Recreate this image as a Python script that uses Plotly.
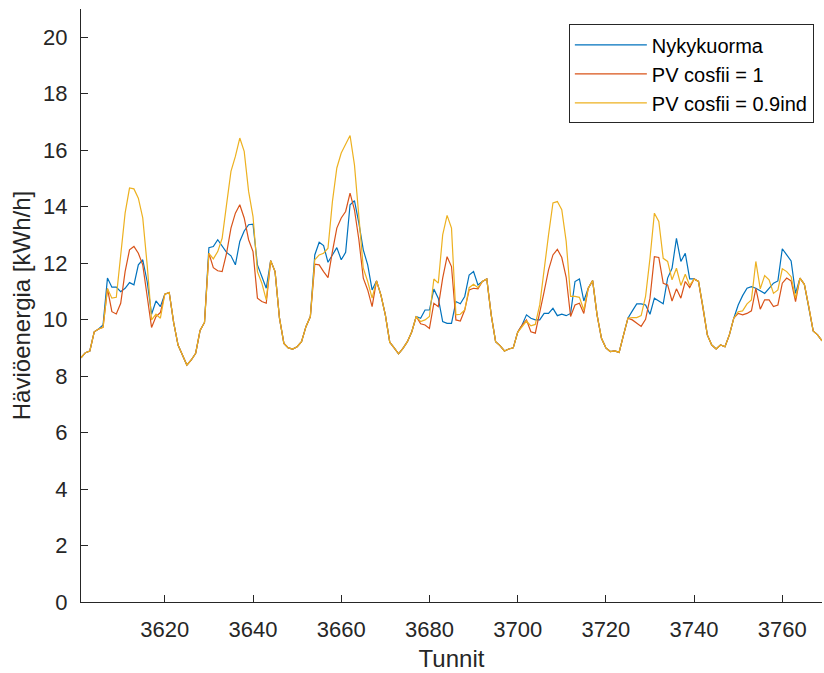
import plotly.graph_objects as go

hours = list(range(3601, 3770))

nykykuorma = [
    8.65, 8.83, 8.89, 9.57, 9.67, 9.81, 11.47, 11.15, 11.15, 10.99,
    11.11, 11.31, 11.23, 11.94, 12.12, 11.35, 10.19, 10.66, 10.46, 10.90,
    10.96, 9.90, 9.10, 8.75, 8.39, 8.57, 8.81, 9.62, 9.90, 12.55,
    12.59, 12.83, 12.62, 12.38, 12.26, 11.94, 12.77, 13.14, 13.36, 13.38,
    11.94, 11.52, 11.11, 12.09, 11.70, 10.05, 9.16, 9.00, 8.96, 9.04,
    9.22, 9.75, 10.11, 12.29, 12.74, 12.62, 12.03, 12.29, 12.55, 12.12,
    12.38, 14.07, 14.21, 13.42, 12.47, 11.94, 11.05, 11.37, 10.87, 10.17,
    9.20, 9.00, 8.79, 8.98, 9.22, 9.57, 10.11, 10.05, 10.34, 10.34,
    11.08, 10.76, 9.93, 9.87, 9.87, 10.64, 10.56, 10.82, 11.58, 11.70,
    11.23, 11.35, 11.44, 10.17, 9.22, 9.08, 8.89, 8.96, 9.00, 9.55,
    9.81, 10.17, 10.05, 9.99, 9.99, 10.22, 10.22, 10.40, 10.14, 10.19,
    10.14, 10.22, 11.35, 11.44, 10.66, 11.11, 11.38, 10.17, 9.34, 9.00,
    8.87, 8.89, 8.84, 9.46, 10.05, 10.31, 10.56, 10.56, 10.52, 10.19,
    10.76, 10.66, 10.56, 11.47, 11.82, 12.88, 12.06, 12.35, 11.44, 11.44,
    11.35, 10.46, 9.46, 9.10, 8.96, 9.10, 9.04, 9.46, 10.05, 10.52,
    10.85, 11.11, 11.17, 11.11, 11.02, 10.93, 11.11, 11.29, 11.37, 12.51,
    12.29, 12.08, 10.93, 11.47, 11.25, 10.46, 9.60, 9.46, 9.25,
]

pv_cos1 = [
    8.65, 8.83, 8.89, 9.57, 9.67, 9.73, 11.10, 10.28, 10.20, 10.58,
    11.70, 12.47, 12.59, 12.35, 11.94, 10.76, 9.72, 10.11, 10.25, 10.90,
    10.96, 9.90, 9.10, 8.75, 8.39, 8.57, 8.81, 9.62, 9.90, 12.35,
    11.84, 11.73, 11.70, 12.35, 13.24, 13.77, 14.07, 13.60, 12.83, 12.41,
    10.76, 10.64, 10.58, 12.09, 11.70, 10.05, 9.16, 9.00, 8.96, 9.04,
    9.22, 9.75, 10.11, 11.96, 11.94, 11.70, 11.49, 12.41, 13.24, 13.60,
    13.83, 14.48, 13.89, 12.83, 11.47, 11.05, 10.46, 11.37, 10.87, 10.17,
    9.20, 9.00, 8.79, 8.98, 9.22, 9.57, 10.11, 9.85, 9.81, 9.69,
    10.58, 10.46, 11.47, 12.23, 11.88, 9.99, 9.95, 10.34, 11.05, 11.11,
    11.09, 11.35, 11.44, 10.17, 9.22, 9.08, 8.89, 8.96, 9.00, 9.55,
    9.81, 9.99, 9.57, 9.52, 10.22, 10.99, 11.76, 12.29, 12.49, 12.20,
    11.50, 10.11, 10.52, 10.58, 10.22, 11.11, 11.38, 10.17, 9.34, 9.00,
    8.87, 8.89, 8.84, 9.46, 10.05, 9.99, 9.87, 9.76, 10.01, 10.76,
    12.23, 12.20, 11.29, 11.23, 10.66, 11.09, 10.76, 11.35, 11.13, 11.44,
    11.35, 10.46, 9.46, 9.10, 8.96, 9.10, 9.04, 9.46, 10.05, 10.22,
    10.17, 10.22, 10.31, 11.11, 10.37, 10.70, 10.70, 10.46, 10.52, 11.29,
    11.47, 11.37, 10.64, 11.47, 11.25, 10.46, 9.60, 9.46, 9.25,
]

pv_cos09 = [
    8.65, 8.83, 8.89, 9.57, 9.67, 9.73, 11.10, 10.76, 10.79, 12.17,
    13.77, 14.66, 14.63, 14.30, 13.60, 11.94, 9.99, 10.19, 10.05, 10.90,
    10.96, 9.90, 9.10, 8.75, 8.39, 8.57, 8.81, 9.62, 9.90, 12.35,
    12.15, 12.41, 12.88, 14.07, 15.25, 15.78, 16.43, 15.96, 14.54, 13.65,
    11.70, 11.29, 10.70, 12.09, 11.70, 10.05, 9.16, 9.00, 8.96, 9.04,
    9.22, 9.75, 10.11, 12.12, 12.29, 12.35, 12.53, 14.18, 15.37, 15.90,
    16.19, 16.52, 15.48, 13.60, 11.82, 11.35, 10.76, 11.37, 10.87, 10.17,
    9.20, 9.00, 8.79, 8.98, 9.22, 9.57, 10.11, 9.93, 9.99, 10.11,
    11.44, 11.29, 13.00, 13.69, 13.24, 10.17, 10.19, 10.34, 11.13, 11.25,
    11.13, 11.35, 11.44, 10.17, 9.22, 9.08, 8.89, 8.96, 9.00, 9.55,
    9.75, 9.95, 9.78, 9.83, 10.52, 11.82, 13.00, 14.13, 14.18, 13.89,
    12.77, 10.82, 10.82, 10.79, 10.34, 11.11, 11.38, 10.17, 9.34, 9.00,
    8.87, 8.89, 8.84, 9.46, 10.05, 10.07, 10.07, 10.14, 10.82, 12.17,
    13.77, 13.48, 12.17, 12.06, 11.41, 11.82, 11.21, 11.61, 11.21, 11.44,
    11.35, 10.46, 9.46, 9.10, 8.96, 9.10, 9.04, 9.46, 10.05, 10.28,
    10.31, 10.56, 10.70, 12.06, 11.09, 11.56, 11.41, 10.93, 11.05, 11.80,
    11.70, 11.52, 10.76, 11.47, 11.25, 10.46, 9.60, 9.46, 9.25,
]

series_names = ["Nykykuorma", "PV cosfii = 1", "PV cosfii = 0.9ind"]
series_colors = ["#0072BD", "#D95319", "#EDB120"]

x_ticks = [3620, 3640, 3660, 3680, 3700, 3720, 3740, 3760]
y_ticks = list(range(0, 21, 2))

FONT = "Liberation Sans, Arial, Helvetica, sans-serif"
AX = "#262626"

fig = go.Figure()
for name, vals, col in zip(series_names, [nykykuorma, pv_cos1, pv_cos09], series_colors):
    fig.add_trace(go.Scatter(x=hours, y=vals, mode="lines", name=name,
                             line=dict(color=col, width=1.2)))

fig.update_layout(
    width=824, height=673,
    margin=dict(l=81, r=2, t=9, b=71, pad=0),
    paper_bgcolor="white", plot_bgcolor="white",
    font=dict(family=FONT, color=AX, size=22),
    showlegend=True,
    legend=dict(x=0.989, y=0.974, xanchor="right", yanchor="top",
                bgcolor="white", bordercolor=AX, borderwidth=1,
                font=dict(size=20, color="black", family=FONT),
                itemwidth=72, tracegroupgap=0),
)
fig.update_xaxes(
    range=[3601, 3769], tickvals=x_ticks, ticktext=[str(v) for v in x_ticks],
    showgrid=False, zeroline=False, showline=True, linecolor=AX, linewidth=1,
    ticks="inside", ticklen=7, tickcolor=AX, tickwidth=1,
    tickfont=dict(size=22, color=AX), ticklabelstandoff=8,
    title=dict(text="Tunnit", font=dict(size=24, color=AX), standoff=8),
)
fig.update_yaxes(
    range=[0, 21], tickvals=y_ticks, ticktext=[str(v) for v in y_ticks],
    showgrid=False, zeroline=False, showline=True, linecolor=AX, linewidth=1,
    ticks="inside", ticklen=7, tickcolor=AX, tickwidth=1,
    tickfont=dict(size=22, color=AX), ticklabelstandoff=8,
    title=dict(text="Häviöenergia [kWh/h]", font=dict(size=24, color=AX), standoff=5),
)

fig.write_html("out.html")
